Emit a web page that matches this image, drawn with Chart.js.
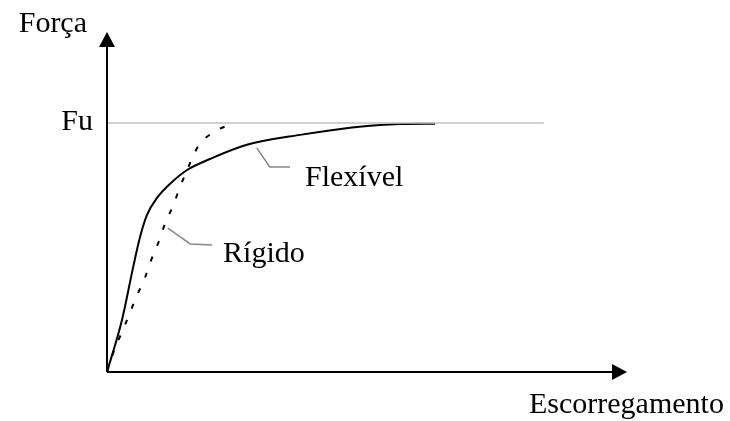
<!DOCTYPE html>
<html>
<head>
<meta charset="utf-8">
<script src="https://cdn.jsdelivr.net/npm/chart.js@4/dist/chart.umd.min.js"></script>
<style>
  html, body { margin: 0; padding: 0; background: #fff; }
  #wrap { width: 730px; height: 421px; }
</style>
</head>
<body>
<div id="wrap"><canvas id="c" width="730" height="421"></canvas></div>
<script>
// escorregamento (arbitrary units, 0..100) vs força (Fu = 1)
const flexX = [0, 2.88, 5.0, 6.35, 7.69, 9.62, 12.1, 15.4, 19.8, 26.9, 37.1, 50.0, 56.3, 63.1];
const flexY = [0, 0.209, 0.418, 0.542, 0.631, 0.699, 0.755, 0.811, 0.855, 0.912, 0.952, 0.988, 0.996, 0.997];

const rigX = [0, 1.54, 2.9, 4.4, 5.8, 7.3, 8.5, 10.0, 11.2, 12.7, 13.9, 15.4, 17.5, 20.4, 24.0];
const rigY = [0, 0.096, 0.161, 0.237, 0.309, 0.378, 0.450, 0.526, 0.598, 0.667, 0.735, 0.811, 0.905, 0.962, 0.996];

const fuX = [0, 84];
const fuY = [1, 1];

const flexLeaderX = [28.8, 31.3, 35.2];
const flexLeaderY = [0.900, 0.823, 0.823];
const rigLeaderX = [11.7, 16.0, 20.2];
const rigLeaderY = [0.578, 0.514, 0.510];

const labels = { yAxis: "Força", fu: "Fu", xAxis: "Escorregamento", flex: "Flexível", rig: "Rígido" };

const pts = (xs, ys) => xs.map((x, i) => ({ x: x, y: ys[i] }));

const FONT = '30px "Liberation Serif", "Times New Roman", serif';

// axes with arrowheads + text labels
const drawing = {
  id: 'drawing',
  afterDatasetsDraw(chart) {
    const ctx = chart.ctx;
    const xs = chart.scales.x, ys = chart.scales.y;
    const x0 = xs.getPixelForValue(0), y0 = ys.getPixelForValue(0);
    const xEnd = xs.getPixelForValue(xs.max), yEnd = ys.getPixelForValue(ys.max);
    ctx.save();
    ctx.strokeStyle = '#000';
    ctx.fillStyle = '#000';
    ctx.lineWidth = 2;
    ctx.beginPath();
    ctx.moveTo(x0, y0);
    ctx.lineTo(x0, yEnd + 10);
    ctx.moveTo(x0, y0);
    ctx.lineTo(xEnd - 10, y0);
    ctx.stroke();
    // arrowheads
    ctx.beginPath();
    ctx.moveTo(x0, yEnd);
    ctx.lineTo(x0 - 8, yEnd + 15);
    ctx.lineTo(x0 + 8, yEnd + 15);
    ctx.closePath();
    ctx.fill();
    ctx.beginPath();
    ctx.moveTo(xEnd, y0);
    ctx.lineTo(xEnd - 15, y0 - 8);
    ctx.lineTo(xEnd - 15, y0 + 8);
    ctx.closePath();
    ctx.fill();

    ctx.font = FONT;
    ctx.textBaseline = 'alphabetic';
    ctx.textAlign = 'right';
    ctx.fillText(labels.yAxis, x0 - 20, yEnd);
    ctx.fillText(labels.fu, x0 - 14, ys.getPixelForValue(1) + 7);
    ctx.textAlign = 'left';
    ctx.fillText(labels.xAxis, xEnd - 98, y0 + 41);
    ctx.fillText(labels.flex, xs.getPixelForValue(flexLeaderX[2]) + 15, ys.getPixelForValue(flexLeaderY[2]) + 19);
    ctx.fillText(labels.rig, xs.getPixelForValue(rigLeaderX[2]) + 11, ys.getPixelForValue(rigLeaderY[2]) + 17);
    ctx.restore();
  }
};

new Chart(document.getElementById('c').getContext('2d'), {
  type: 'line',
  data: {
    datasets: [
      { label: 'Fu', data: pts(fuX, fuY), borderColor: '#c0c0c0', borderWidth: 1.5, pointRadius: 0, tension: 0 },
      { label: 'Flexível', data: pts(flexX, flexY), borderColor: '#000', borderWidth: 2, pointRadius: 0, cubicInterpolationMode: 'monotone' },
      { label: 'Rígido', data: pts(rigX, rigY), borderColor: '#000', borderWidth: 2, borderDash: [5, 12], pointRadius: 0, cubicInterpolationMode: 'monotone' },
      { label: 'l1', data: pts(flexLeaderX, flexLeaderY), borderColor: '#888', borderWidth: 1.5, pointRadius: 0, tension: 0 },
      { label: 'l2', data: pts(rigLeaderX, rigLeaderY), borderColor: '#888', borderWidth: 1.5, pointRadius: 0, tension: 0 }
    ]
  },
  options: {
    responsive: false,
    animation: false,
    layout: { padding: { left: 107, right: 103, top: 32, bottom: 49 } },
    plugins: { legend: { display: false }, tooltip: { enabled: false } },
    elements: { line: { fill: false } },
    scales: {
      x: { type: 'linear', min: 0, max: 100, display: false },
      y: { type: 'linear', min: 0, max: 1.365, display: false }
    }
  },
  plugins: [drawing]
});
</script>
</body>
</html>
